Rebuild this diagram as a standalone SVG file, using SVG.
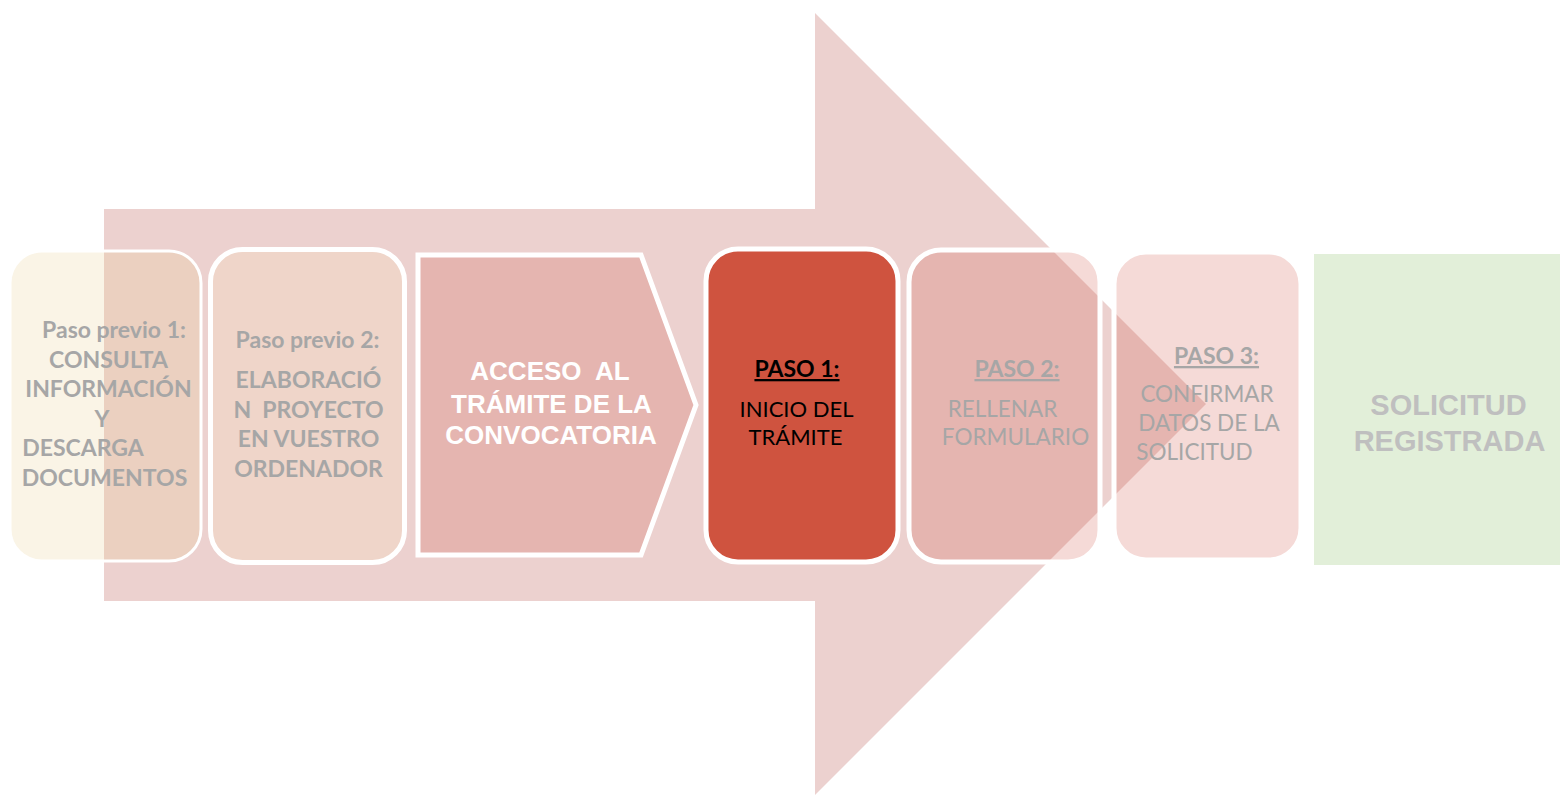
<svg xmlns="http://www.w3.org/2000/svg" width="1560" height="795" viewBox="0 0 1560 795">
<style>
.cal{font-family:Lato,"Open Sans","Liberation Sans",sans-serif;text-anchor:middle}
.ari{font-family:"Liberation Sans",Arial,sans-serif;text-anchor:middle;font-weight:bold}
.b{font-weight:bold}
.g{fill:#A6A6A6}
.u{text-decoration:underline}
.redA{fill:#CD4637;fill-opacity:0.2;stroke:#FFFFFF;stroke-width:5}
</style>
<rect width="1560" height="795" fill="#FFFFFF"/>
<g id="big-arrow">
<path d="M104,209 L815,209 L815,13 L1206,404 L815,795 L815,601 L104,601 Z" fill="#ECD1CF"/>
</g>
<g id="paso-previo-1">
<rect x="10" y="251" width="191" height="310" rx="32" fill="#E8CC8C" fill-opacity="0.22" stroke="#FFFFFF" stroke-width="3"/>
<text class="cal b g" font-size="23"><tspan x="114" y="338">Paso previo 1:</tspan><tspan x="108.5" y="368">CONSULTA</tspan><tspan x="108.5" y="397">INFORMACIÓN</tspan><tspan x="102" y="427">Y</tspan><tspan x="83" y="456">DESCARGA</tspan><tspan x="104.5" y="486">DOCUMENTOS</tspan></text>
</g>
<g id="paso-previo-2">
<rect x="210.5" y="249.5" width="194" height="313" rx="32" fill="#EFD5C9" stroke="#FFFFFF" stroke-width="5"/>
<text class="cal b g" font-size="23" xml:space="preserve"><tspan x="307.5" y="348">Paso previo 2:</tspan><tspan x="308.5" y="388">ELABORACIÓ</tspan><tspan x="308.5" y="418">N  PROYECTO</tspan><tspan x="308.5" y="447">EN VUESTRO</tspan><tspan x="308.5" y="477">ORDENADOR</tspan></text>
</g>
<g id="acceso">
<path d="M418,255 L641,255 L696,405 L641,555 L418,555 Z" class="redA"/>
<text class="ari" font-size="26" fill="#FFFFFF" xml:space="preserve"><tspan x="550" y="380">ACCESO  AL</tspan><tspan x="551.5" y="413">TRÁMITE DE LA</tspan><tspan x="551" y="444">CONVOCATORIA</tspan></text>
</g>
<g id="paso-1">
<rect x="706" y="249" width="192" height="313" rx="32" fill="#CF533F" stroke="#FFFFFF" stroke-width="5"/>
<text class="cal b u" font-size="23" x="797" y="377" fill="#000000">PASO 1:</text>
<text class="cal" font-size="22" fill="#000000"><tspan x="796.5" y="417">INICIO DEL</tspan><tspan x="795.5" y="445">TRÁMITE</tspan></text>
</g>
<g id="paso-2">
<rect x="909" y="250" width="191" height="312" rx="32" class="redA"/>
<text class="cal b u g" font-size="23" x="1017" y="377">PASO 2:</text>
<text class="cal g" font-size="22.5"><tspan x="1002.5" y="417">RELLENAR</tspan><tspan x="1015.5" y="445">FORMULARIO</tspan></text>
</g>
<g id="paso-3">
<rect x="1114" y="252" width="187" height="308" rx="32" class="redA"/>
<text class="cal b u g" font-size="23" x="1216.5" y="364">PASO 3:</text>
<text class="cal g" font-size="22.5"><tspan x="1207" y="402">CONFIRMAR</tspan><tspan x="1209" y="431">DATOS DE LA</tspan><tspan x="1194.5" y="460">SOLICITUD</tspan></text>
</g>
<g id="solicitud-registrada">
<rect x="1314" y="254" width="246" height="311" fill="#E2EFD9"/>
<text class="ari" font-size="29" fill="#BFBFBF"><tspan x="1448.5" y="415">SOLICITUD</tspan><tspan x="1449.5" y="451">REGISTRADA</tspan></text>
</g>
<g id="connectors"/>
</svg>
